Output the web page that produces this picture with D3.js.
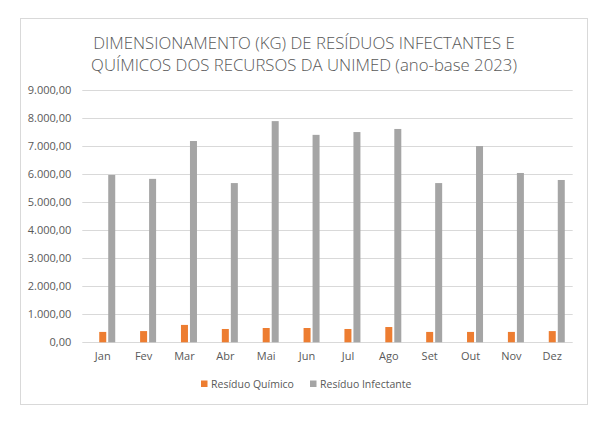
<!DOCTYPE html>
<html><head><meta charset="utf-8">
<script src="https://cdn.jsdelivr.net/npm/d3@7"></script>
<style>
body{margin:0;background:#fff;}
svg{display:block;}
text{font-family:"Open Sans",sans-serif;}
</style></head>
<body><svg id="chart" width="614" height="426"></svg>
<script>
const titleLines = ["DIMENSIONAMENTO (KG) DE RESÍDUOS INFECTANTES E", "QUÍMICOS DOS RECURSOS DA UNIMED (ano-base 2023)"];
const months = ["Jan","Fev","Mar","Abr","Mai","Jun","Jul","Ago","Set","Out","Nov","Dez"];
const quimico = [370, 400, 620, 475, 510, 510, 475, 545, 370, 370, 370, 400];
const infectante = [5970, 5830, 7180, 5680, 7890, 7400, 7500, 7610, 5680, 7000, 6040, 5790];
const seriesNames = ["Resíduo Químico", "Resíduo Infectante"];
const seriesColors = ["#ED7D31", "#A5A5A5"];
const yTicks = [0,1000,2000,3000,4000,5000,6000,7000,8000,9000];

const svg = d3.select("#chart");
svg.append("rect").attr("x",20.5).attr("y",18.5).attr("width",567).attr("height",386)
  .attr("fill","#fff").attr("stroke","#d9d9d9").attr("stroke-width",1);

const fmt = v => d3.format(",.2f")(v).replace(/,/g,"#").replace(".",",").replace(/#/g,".");

const x0 = d3.scaleBand().domain(months).range([82.3,572.7]);
const slots = ["_empty","q","i"];
const bw = x0.bandwidth();
const x1 = d3.scaleBand().domain(slots).range([bw/2-13.5, bw/2+13.5]).paddingInner(2/9).paddingOuter(1/9);
const y = d3.scaleLinear().domain([0,9000]).range([342.3,90]);

// gridlines
svg.append("g").selectAll("line").data(yTicks).join("line")
  .attr("x1",82.3).attr("x2",572.7)
  .attr("y1",d=>Math.round(y(d))+0.5).attr("y2",d=>Math.round(y(d))+0.5)
  .attr("stroke","#d9d9d9").attr("stroke-width",1);

// y axis labels
const yAxis = d3.axisLeft(y).tickValues(yTicks).tickFormat(fmt).tickSize(0).tickPadding(11);
const gy = svg.append("g").attr("transform","translate(82.3,0)").call(yAxis);
gy.select(".domain").remove();
gy.selectAll("text").attr("fill","#595959").style("font-size","11px").style("font-family","'Open Sans',sans-serif");

// x axis labels
const xAxis = d3.axisBottom(x0).tickSize(0).tickPadding(10);
const gx = svg.append("g").attr("transform","translate(0,342.3)").call(xAxis);
gx.select(".domain").remove();
gx.selectAll("text").attr("fill","#595959").style("font-size","11px").style("font-family","'Open Sans',sans-serif");

// bars
const data = months.map((m,i)=>({m, vals:[{k:"q",v:quimico[i],c:seriesColors[0]},{k:"i",v:infectante[i],c:seriesColors[1]}]}));
svg.append("g").selectAll("g").data(data).join("g")
  .attr("transform",d=>`translate(${x0(d.m)},0)`)
  .selectAll("rect").data(d=>d.vals).join("rect")
  .attr("x",d=>x1(d.k)).attr("width",x1.bandwidth())
  .attr("y",d=>y(d.v)).attr("height",d=>y(0)-y(d.v))
  .attr("fill",d=>d.c);

// title
const tg = svg.append("g");
const tBase = [48.5, 71.2];
const tnodes = titleLines.map((t,i)=>
  tg.append("text").attr("x",0).attr("y",0).attr("text-anchor","middle")
    .attr("fill","#595959").style("font-size","16.5px").style("font-family","'Open Sans',sans-serif").style("font-weight","300")
    .text(t));
const w0 = tnodes[0].node().getComputedTextLength();
const sx = 422/w0;
tnodes.forEach((n,i)=>n.attr("transform",`translate(304,${tBase[i]}) scale(${sx},1)`));

// legend
const legX = [201, 310];
seriesNames.forEach((n,i)=>{
  svg.append("rect").attr("x",legX[i]).attr("y",380.5).attr("width",6.5).attr("height",6.5).attr("fill",seriesColors[i]);
  svg.append("text").attr("x",legX[i]+10).attr("y",388).attr("fill","#595959")
    .style("font-size","10.5px").style("font-family","'Open Sans',sans-serif").text(n);
});
</script></body></html>
